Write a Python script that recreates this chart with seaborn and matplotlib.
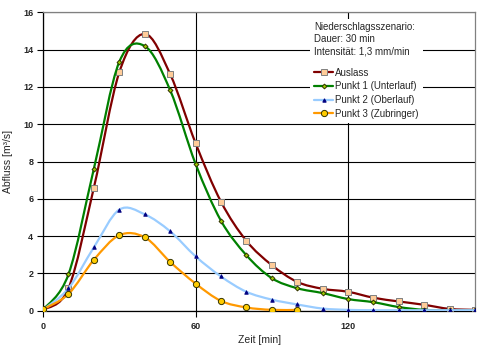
import numpy as np
import matplotlib
matplotlib.use("Agg")
import matplotlib.pyplot as plt
from matplotlib.path import Path
from matplotlib.patches import PathPatch
from matplotlib.lines import Line2D
import seaborn as sns

# Zeit [min] and Abfluss [m3/s]
zeit = [0, 10, 20, 30, 40, 50, 60, 70, 80, 90, 100, 110, 120, 130, 140, 150, 160, 170]
auslass = [0.05, 1.2, 6.6, 12.78, 14.84, 12.69, 8.99, 5.85, 3.75, 2.45, 1.55, 1.18, 1.02, 0.70, 0.50, 0.32, 0.10, 0.05]
punkt1 = [0.05, 1.95, 7.61, 13.34, 14.19, 11.83, 7.88, 4.83, 2.98, 1.75, 1.21, 0.95, 0.63, 0.46, 0.20, 0.05, 0.02, 0.02]
punkt2 = [0.05, 1.2, 3.4, 5.42, 5.17, 4.26, 2.92, 1.84, 1.02, 0.60, 0.34, 0.12, 0.05, 0.03, 0.03, 0.03, 0.03, 0.03]
zeit3 = [0, 10, 20, 30, 40, 50, 60, 70, 80, 90, 100]
punkt3 = [0.08, 0.9, 2.73, 4.05, 3.94, 2.62, 1.46, 0.53, 0.18, 0.05, 0.05]

sns.set_style("white")
plt.rcParams['font.family'] = ['Liberation Sans', 'DejaVu Sans']

fig = plt.figure(figsize=(4.78, 3.5), dpi=100)
ax = fig.add_axes([0.090, 0.112, 0.904, 0.853])


def smooth_path(x, y):
    # excel-like smoothed line: bezier segments through the points
    p = np.column_stack([x, y]).astype(float)
    n = len(p)
    verts = [p[0]]
    codes = [Path.MOVETO]
    for i in range(n - 1):
        p0 = p[max(i - 1, 0)]
        p1 = p[i]
        p2 = p[i + 1]
        p3 = p[min(i + 2, n - 1)]
        c1 = p1 + (p2 - p0) / 6.0
        c2 = p2 - (p3 - p1) / 6.0
        verts += [c1, c2, p2]
        codes += [Path.CURVE4] * 3
    return Path(verts, codes)


series = [
    ("Auslass", zeit, auslass, "#800000", "s", "#FFCC99", "#808080", 18),
    ("Punkt 1 (Unterlauf)", zeit, punkt1, "#008000", "D", "#99CC00", "#333300", 6),
    ("Punkt 2 (Oberlauf)", zeit, punkt2, "#99CCFF", "^", "#000080", "#000080", 6),
    ("Punkt 3 (Zubringer)", zeit3, punkt3, "#FF9900", "o", "#FFCC00", "#333300", 20),
]

handles = []
for k, (name, xs, ys, lc, mk, fc, ec, size) in enumerate(series):
    patch = PathPatch(smooth_path(xs, ys), facecolor="none", edgecolor=lc,
                      lw=1.6, zorder=3 + 2 * k, capstyle="round", joinstyle="round")
    ax.add_patch(patch)
    sns.scatterplot(x=xs, y=ys, marker=mk, s=size, color=fc, edgecolor=ec,
                    linewidth=0.7, zorder=4 + 2 * k, ax=ax, legend=False)
    handles.append(Line2D([], [], color=lc, lw=1.6, marker=mk,
                          markersize=np.sqrt(size), markerfacecolor=fc,
                          markeredgecolor=ec, markeredgewidth=0.7, label=name))

ax.set_xlim(0, 170)
ax.set_ylim(0, 16)
ax.set_xticks([0, 60, 120])
ax.set_yticks(np.arange(0, 17, 2))
ax.grid(True, color="black", lw=0.8)
ax.set_axisbelow(True)

for s in ["left", "bottom"]:
    ax.spines[s].set_color("black")
    ax.spines[s].set_linewidth(0.9)
for s in ["top", "right"]:
    ax.spines[s].set_color("#808080")
    ax.spines[s].set_linewidth(0.9)

ax.tick_params(axis="both", which="major", direction="out", length=4, width=0.8,
               color="black", labelsize=6.5, pad=3, bottom=True, left=True)
ax.tick_params(axis="x", pad=4)
for lab in ax.get_xticklabels() + ax.get_yticklabels():
    lab.set_fontweight("bold")

ax.set_xlabel("Zeit [min]", fontsize=7.5, labelpad=3)
ax.set_ylabel("Abfluss [m³/s]", fontsize=7.5, labelpad=7)

leg = ax.legend(handles=handles, loc="upper right", bbox_to_anchor=(0.89, 0.995),
                fontsize=7, title="Niederschlagsszenario:\nDauer: 30 min\nIntensität: 1,3 mm/min",
                title_fontsize=7, alignment="left", frameon=True, fancybox=False,
                edgecolor="none", facecolor="white", framealpha=1,
                handlelength=2.0, handletextpad=0.2, labelspacing=0.38, borderpad=0.4)
leg.get_title().set_linespacing(1.25)
leg._legend_box.sep = 8
leg.set_zorder(20)

fig.savefig("out.png", dpi=100)
